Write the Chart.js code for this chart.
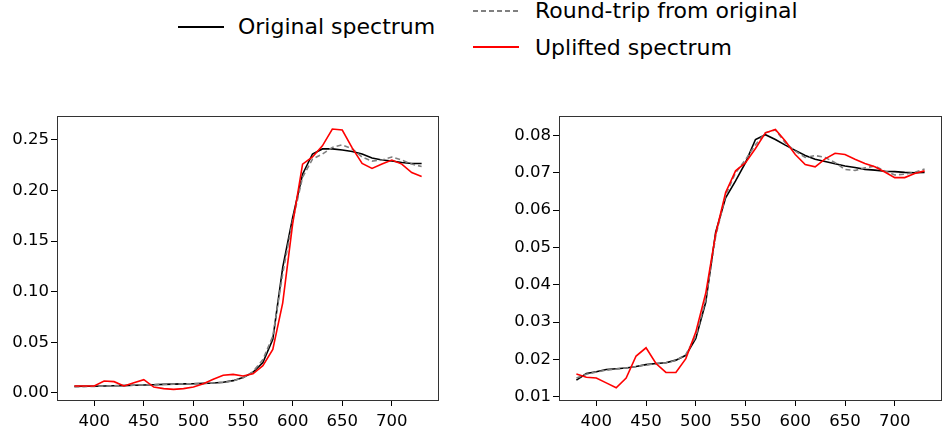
<!DOCTYPE html>
<html>
<head>
<meta charset="utf-8">
<script src="https://cdn.jsdelivr.net/npm/chart.js@4/dist/chart.umd.min.js"></script>
<style>
  body { margin: 0; background: #fff; width: 944px; height: 430px; position: relative; overflow: hidden; }
  canvas { position: absolute; }
  .leg { position: absolute; font-family: "DejaVu Sans", sans-serif; font-size: 22px; line-height: 22px; color: #000; white-space: nowrap; }
  .sample { position: absolute; height: 2px; width: 46px; }
  .dash { background: repeating-linear-gradient(90deg, #808080 0 5px, transparent 5px 8px); height: 1.5px; }
</style>
</head>
<body>
<div class="sample" style="left:178px; top:26px; background:#000;"></div>
<div class="leg" style="left:238px; top:16px;">Original spectrum</div>
<div class="sample dash" style="left:473px; top:10px;"></div>
<div class="leg" style="left:535px; top:0px;">Round-trip from original</div>
<div class="sample" style="left:473px; top:46px; background:#ff0000;"></div>
<div class="leg" style="left:535px; top:37px;">Uplifted spectrum</div>

<canvas id="left" width="460" height="330" style="left:0; top:100px;"></canvas>
<canvas id="right" width="464" height="330" style="left:480px; top:100px;"></canvas>

<script>
// wavelength grid (nm)
const wavelengths = [380, 390, 400, 410, 420, 430, 440, 450, 460, 470, 480, 490, 500, 510, 520, 530, 540, 550,
                     560, 570, 580, 590, 600, 610, 620, 630, 640, 650, 660, 670, 680, 690, 700, 710, 720, 730];

// left panel
const leftOriginal = [0.0065, 0.0066, 0.0067, 0.0069, 0.0071, 0.0073, 0.0076, 0.0079, 0.0082, 0.0085, 0.0088, 0.0090,
                      0.0092, 0.0095, 0.0099, 0.0106, 0.0122, 0.0152, 0.0205, 0.030, 0.053, 0.124, 0.173, 0.216,
                      0.236, 0.241, 0.241, 0.240, 0.2385, 0.236, 0.232, 0.230, 0.229, 0.2276, 0.2266, 0.2266];
const leftRoundTrip = [0.0062, 0.0063, 0.0065, 0.0068, 0.0071, 0.0074, 0.0077, 0.0080, 0.0083, 0.0086, 0.0088, 0.0090,
                       0.0092, 0.0094, 0.0098, 0.0105, 0.0120, 0.0150, 0.021, 0.033, 0.056, 0.118, 0.170, 0.213,
                       0.231, 0.236, 0.2425, 0.245, 0.241, 0.233, 0.229, 0.230, 0.233, 0.230, 0.226, 0.2236];
const leftUplifted = [0.0069, 0.0069, 0.0069, 0.0119, 0.0112, 0.0069, 0.0102, 0.0132, 0.0059, 0.0043, 0.0036, 0.0043,
                      0.0059, 0.0092, 0.0135, 0.0175, 0.0184, 0.0168, 0.019, 0.027, 0.043, 0.089, 0.167, 0.226,
                      0.233, 0.244, 0.2606, 0.2596, 0.242, 0.2266, 0.2217, 0.226, 0.230, 0.226, 0.2177, 0.2138];

// right panel
const rightOriginal = [0.01445, 0.0162, 0.01667, 0.0173, 0.0175, 0.0177, 0.0181, 0.0186, 0.0189, 0.0191, 0.0198, 0.0211,
                       0.0256, 0.0353, 0.0541, 0.0633, 0.0678, 0.0727, 0.0789, 0.0802, 0.0789, 0.0774, 0.0760, 0.0746,
                       0.0736, 0.0730, 0.0724, 0.0718, 0.0714, 0.0709, 0.0707, 0.0704, 0.0703, 0.0701, 0.0700, 0.0701];
const rightRoundTrip = [0.0150, 0.0160, 0.0166, 0.0171, 0.0174, 0.0177, 0.0181, 0.0185, 0.0188, 0.0191, 0.0197, 0.0213,
                        0.0262, 0.0360, 0.0530, 0.0640, 0.0700, 0.0735, 0.0775, 0.0807, 0.0815, 0.0780, 0.0758, 0.0741,
                        0.0746, 0.0741, 0.0727, 0.0709, 0.0706, 0.0713, 0.0718, 0.0705, 0.0694, 0.0696, 0.0701, 0.0710];
const rightUplifted = [0.0161, 0.0152, 0.0150, 0.0137, 0.0124, 0.0150, 0.0209, 0.0231, 0.0189, 0.0165, 0.0165, 0.0202,
                       0.0273, 0.0377, 0.0536, 0.0647, 0.0705, 0.0727, 0.0765, 0.0807, 0.0816, 0.0785, 0.0749, 0.0722,
                       0.0716, 0.0737, 0.0752, 0.0749, 0.0736, 0.0725, 0.0716, 0.0702, 0.0687, 0.0687, 0.0698, 0.0705];

// ticks
const xTicks = [400, 450, 500, 550, 600, 650, 700];
const leftYTicks = [0.00, 0.05, 0.10, 0.15, 0.20, 0.25];
const rightYTicks = [0.01, 0.02, 0.03, 0.04, 0.05, 0.06, 0.07, 0.08];

const FONT = { family: '"DejaVu Sans", sans-serif', size: 16.5 };

const boxPlugin = {
    id: 'box',
    afterDraw(chart) {
        const { ctx, chartArea: a } = chart;
        ctx.save();
        ctx.strokeStyle = '#333';
        ctx.lineWidth = 1;
        ctx.strokeRect(a.left + 0.5, a.top + 0.5, a.right - a.left - 1, a.bottom - a.top - 1);
        ctx.restore();
    }
};

function toPoints(ys) {
    return wavelengths.map((x, i) => ({ x: x, y: ys[i] }));
}

function makePanel(id, original, roundTrip, uplifted, yTicks, yMin, yMax, yWidth, padRight) {
    const ctx = document.getElementById(id).getContext('2d');
    new Chart(ctx, {
        type: 'line',
        data: {
            datasets: [
                { label: 'Uplifted spectrum', data: toPoints(uplifted), borderColor: '#ff0000', borderWidth: 1.6, order: 0 },
                { label: 'Round-trip from original', data: toPoints(roundTrip), borderColor: '#808080', borderWidth: 1.6, borderDash: [5, 3], order: 1 },
                { label: 'Original spectrum', data: toPoints(original), borderColor: '#000000', borderWidth: 1.6, order: 2 }
            ]
        },
        options: {
            responsive: false,
            animation: false,
            events: [],
            elements: { point: { radius: 0 }, line: { tension: 0, fill: false } },
            layout: { padding: { top: 16, right: padRight, left: 0, bottom: 0 } },
            plugins: { legend: { display: false }, tooltip: { enabled: false } },
            scales: {
                x: {
                    type: 'linear',
                    min: 362.5,
                    max: 747.5,
                    afterBuildTicks: s => { s.ticks = xTicks.map(v => ({ value: v })); },
                    afterFit: s => { s.height = 29; },
                    border: { display: false },
                    grid: { drawOnChartArea: false, drawTicks: true, tickLength: 5, color: '#000' },
                    ticks: { color: '#000', font: FONT, padding: 6, maxRotation: 0, callback: v => String(v) }
                },
                y: {
                    min: yMin,
                    max: yMax,
                    afterBuildTicks: s => { s.ticks = yTicks.map(v => ({ value: v })); },
                    afterFit: s => { s.width = yWidth; },
                    border: { display: false },
                    grid: { drawOnChartArea: false, drawTicks: true, tickLength: 6, color: '#000' },
                    ticks: { color: '#000', font: FONT, padding: 2, callback: v => v.toFixed(2) }
                }
            }
        },
        plugins: [boxPlugin]
    });
}

makePanel('left', leftOriginal, leftRoundTrip, leftUplifted, leftYTicks, -0.0079, 0.2735, 57, 21);
makePanel('right', rightOriginal, rightRoundTrip, rightUplifted, rightYTicks, 0.00885, 0.0852, 79, 2);
</script>
</body>
</html>
